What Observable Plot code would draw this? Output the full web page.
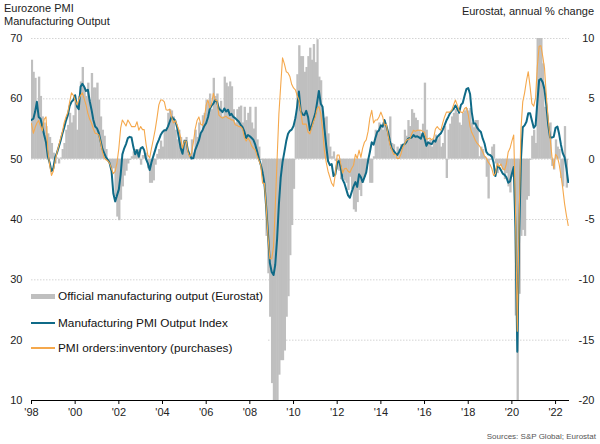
<!DOCTYPE html>
<html>
<head>
<meta charset="utf-8">
<script src="https://cdn.jsdelivr.net/npm/d3@7"></script>
<script src="https://cdn.jsdelivr.net/npm/@observablehq/plot@0.6"></script>
<style>
  html, body { margin: 0; padding: 0; background: #fff; overflow: hidden; }
  #wrap { position: relative; width: 600px; height: 444px; font-family: "Liberation Sans", Arial, sans-serif; color: #222; }
  #hdr { position: relative; height: 30px; }
  .lg-text { position: absolute; left: 30px; font-size: 11.8px; line-height: 14px; white-space: nowrap; color: #111; }
</style>
</head>
<body>
<div id="wrap">
  <div id="hdr">
    <div style="position:absolute;left:4px;top:2px;font-size:11px;line-height:13px;">Eurozone PMI<br>Manufacturing Output</div>
    <div style="position:absolute;right:6px;top:5px;font-size:11px;line-height:13px;">Eurostat, annual % change</div>
  </div>
  <div id="chart"></div>
  <div style="text-align:right;font-size:8px;color:#555;padding-right:4px;line-height:14px;">Sources: S&amp;P Global; Eurostat</div>
  <div id="legend" style="position:absolute;left:28px;top:284px;width:240px;height:74px;background:#fff;">
    <div style="position:absolute;left:3px;top:10px;width:24px;height:5px;background:#bfbfbf;"></div>
    <div class="lg-text" style="top:5px;">Official manufacturing output (Eurostat)</div>
    <div style="position:absolute;left:3px;top:37.5px;width:24px;height:2px;background:#0f6a87;"></div>
    <div class="lg-text" style="top:31.5px;">Manufacturing PMI Output Index</div>
    <div style="position:absolute;left:3px;top:63px;width:24px;height:1.5px;background:#f5a84c;"></div>
    <div class="lg-text" style="top:57px;">PMI orders:inventory (purchases)</div>
  </div>
</div>
<script>
// Monthly series, Jan 1998 onward
const seriesNames = ["Official manufacturing output (Eurostat)", "Manufacturing PMI Output Index", "PMI orders:inventory (purchases)"];

// Manufacturing PMI Output Index (left axis)
const pmiOutput = [
56.5,56.7,57.8,59.5,57.0,56.7,55.4,54.0,52.8,50.5,49.4,48.0,
48.5,50.3,51.0,52.0,53.0,54.2,55.2,56.4,57.3,58.8,59.5,59.8,
60.6,58.7,58.3,62.0,62.5,62.0,61.3,61.5,59.6,58.2,56.5,55.4,
55.1,54.3,53.0,51.7,51.0,50.3,49.9,49.3,48.0,44.3,43.0,44.0,
45.0,47.5,50.8,51.8,52.5,53.5,53.7,53.6,52.0,50.8,51.5,50.4,
51.8,52.0,51.5,50.0,49.3,48.2,49.5,50.5,51.5,52.5,53.2,54.0,
54.5,54.8,54.8,55.4,56.2,57.0,56.7,56.4,55.3,53.5,51.8,50.9,
53.0,53.0,51.5,50.7,50.1,50.2,51.5,52.3,53.1,54.3,54.8,55.5,
56.0,57.0,58.3,58.9,59.2,59.8,59.5,58.4,58.1,57.8,58.4,57.9,
58.2,57.3,57.5,57.0,56.8,56.5,56.2,55.7,55.3,54.6,53.5,54.0,
53.8,53.5,53.2,52.4,51.3,50.1,49.1,47.8,46.0,42.0,37.5,32.8,
31.3,30.8,32.5,36.8,42.5,47.0,49.5,51.2,53.0,54.2,54.7,54.9,
55.5,56.8,58.6,61.2,58.0,57.4,57.3,58.0,57.0,54.8,55.6,56.6,
57.6,59.5,61.3,59.2,58.7,55.2,52.3,49.7,49.0,49.2,47.2,47.5,
49.4,49.7,48.6,46.6,46.0,45.0,44.0,43.6,44.6,45.5,46.2,45.4,
47.5,47.0,46.2,47.0,47.8,49.8,51.2,52.8,52.4,53.5,54.5,54.8,
55.6,55.4,56.5,55.6,54.5,53.0,51.8,51.4,51.0,50.7,51.2,51.8,
52.4,52.5,52.8,53.4,53.5,53.6,54.0,53.7,53.8,53.6,53.4,54.3,
53.5,52.2,52.8,52.6,52.5,53.1,52.9,53.7,54.0,54.3,54.9,55.6,
56.4,57.0,57.6,58.0,58.3,58.9,58.4,57.7,59.0,59.3,60.5,61.6,
61.8,60.8,57.8,55.9,55.9,55.2,54.8,54.5,53.4,52.6,51.2,50.8,
50.7,50.4,49.4,47.2,48.8,48.7,48.2,47.6,47.4,47.0,46.1,46.3,
47.6,48.7,38.5,18.1,37.0,50.0,55.3,55.6,56.2,57.6,57.6,56.4,
55.2,55.6,59.3,63.1,63.3,62.7,61.5,58.8,55.6,53.6,53.6,53.7,
55.2,55.4,54.2,52.4,51.0,50.3,48.5,46.2
];

// PMI orders:inventory (purchases) (left axis)
const ordersInventory = [
55.9,54.3,55.2,56.0,56.4,55.5,54.7,56.6,57.0,51.5,49.0,47.3,
48.0,49.7,51.0,52.2,53.4,54.5,56.0,57.0,57.8,59.5,61.0,60.6,
59.8,59.0,59.8,60.6,61.0,60.0,59.0,57.6,56.6,56.0,55.0,54.3,
54.2,54.0,52.8,51.2,50.2,49.9,49.7,49.3,48.4,47.6,48.0,49.4,
51.8,55.2,56.5,56.0,55.5,56.5,56.0,55.4,55.4,55.4,56.2,54.8,
55.4,54.9,54.9,52.5,50.7,50.2,51.8,53.3,54.9,56.8,59.0,59.8,
59.8,59.5,58.2,58.1,58.3,57.0,56.0,56.4,55.7,54.8,53.5,51.8,
53.0,53.0,51.2,50.4,51.0,52.8,55.0,56.4,57.0,55.8,55.6,56.8,
59.0,59.8,58.5,59.2,60.9,59.8,59.7,57.3,57.0,56.8,57.0,57.1,
56.8,56.7,56.5,56.5,55.7,55.6,55.4,55.4,55.0,53.6,53.0,53.5,
53.0,52.2,51.8,51.5,50.5,49.8,49.0,46.0,46.0,42.0,37.0,33.5,
33.5,35.5,42.0,50.0,57.5,62.3,66.8,65.8,64.5,64.3,63.7,62.4,
61.8,61.5,60.6,59.8,58.0,55.8,55.8,55.8,54.5,54.2,55.2,56.2,
57.0,58.4,58.7,57.6,55.0,51.5,49.5,48.0,47.0,46.0,45.5,47.5,
50.7,50.7,49.2,47.7,48.4,48.5,48.0,47.8,48.5,49.0,50.8,50.1,
51.5,50.3,51.8,52.8,53.2,54.6,56.8,58.1,56.0,56.5,56.5,57.0,
57.8,57.0,55.6,55.8,54.0,52.4,51.6,50.8,50.8,50.1,50.1,50.8,
51.9,52.5,53.1,53.3,53.4,54.2,54.8,54.6,54.8,54.8,54.8,54.6,
54.5,53.3,53.4,53.5,53.2,53.5,55.0,55.4,55.0,54.8,56.0,57.0,
57.8,57.8,57.8,58.1,59.0,59.8,59.0,58.1,57.8,57.7,58.4,58.6,
57.4,55.4,54.4,53.8,53.1,52.6,52.3,51.8,51.2,50.5,50.2,49.5,
49.1,48.4,47.3,47.6,49.3,48.8,49.2,48.4,48.2,49.2,51.2,51.8,
53.0,54.0,42.0,21.5,40.0,55.0,59.5,61.0,63.0,64.5,62.0,59.2,
58.8,60.2,65.3,68.7,68.8,67.0,65.0,60.3,56.5,53.5,50.5,48.5,
50.8,50.4,49.2,47.3,45.2,42.6,40.7,39.0
];

// Official manufacturing output, annual % change (right axis)
const outputYoY = [
8.2,7.2,6.7,4.7,6.8,5.2,3.5,3.0,2.7,2.1,1.8,1.3,
0.5,-0.4,0.1,-0.4,0.1,0.8,1.3,2.4,2.8,3.8,3.0,3.6,
4.8,2.4,5.2,6.4,7.6,5.9,5.2,6.3,4.9,7.1,5.9,5.9,
6.3,4.9,3.5,2.4,1.9,0.8,0.0,-0.4,-0.9,-0.8,-3.1,-4.8,
-5.1,-3.4,-2.3,-1.4,-1.0,-0.4,-0.1,0.2,0.6,0.8,0.5,0.8,
-0.5,0.3,0.3,0.5,-0.8,-2.0,-2.0,-1.8,-0.5,0.4,0.8,1.5,
1.0,2.4,2.4,3.8,4.1,4.0,3.5,2.4,1.6,2.4,1.8,1.0,
1.6,1.8,0.5,0.2,1.6,0.5,2.4,1.8,3.0,2.1,3.6,3.8,
4.9,4.6,5.4,4.1,6.7,5.2,5.4,4.3,4.8,3.5,6.8,6.3,
6.0,6.4,6.0,4.1,3.0,4.1,4.3,4.4,3.0,4.3,3.2,3.8,
4.3,3.0,2.5,4.3,1.6,1.0,-0.1,-1.2,-2.3,-6.4,-9.5,-13.1,
-18.6,-21.0,-22.0,-21.0,-17.9,-16.7,-16.7,-15.9,-13.1,-11.4,-8.0,-5.5,
-2.5,3.5,7.0,9.4,8.5,8.5,7.2,7.6,8.5,9.2,8.2,9.5,
8.0,9.9,6.8,6.5,3.9,3.4,3.5,2.1,1.0,0.2,0.6,-0.2,
-0.9,-1.0,-1.7,-1.5,-1.8,-2.0,-2.6,-1.5,-2.5,-4.2,-4.4,-3.6,
-2.6,-3.1,-2.0,-1.5,-0.9,-0.4,-2.0,-2.0,0.2,2.4,2.1,3.0,
2.8,2.4,3.2,2.6,2.1,3.5,1.3,1.2,0.2,1.0,0.8,1.2,
1.0,2.4,1.9,3.2,2.7,4.1,3.8,3.4,3.2,2.4,2.1,2.9,
6.3,2.4,1.3,1.6,1.0,1.6,2.0,1.6,1.9,1.0,1.3,2.7,
-1.6,2.4,2.9,3.5,3.8,4.1,3.8,3.0,2.8,3.8,4.0,4.2,
4.0,4.2,3.0,2.6,3.2,3.2,0.2,1.0,0.8,0.2,-1.5,-3.3,
-0.1,1.0,1.2,-0.4,-1.2,-0.4,-0.6,-0.9,-1.7,-1.2,-2.3,-2.8,
-1.5,-0.9,-13.0,-28.0,-11.2,-6.4,-5.9,-6.4,-3.4,-3.1,-0.1,1.9,
2.4,1.3,12.0,23.0,12.5,7.9,4.3,4.1,2.4,3.0,-0.6,-0.9,
1.6,1.0,0.8,-1.6,-2.3,2.7,-2.4
];

// Axis ticks
const leftTicks = [10, 20, 30, 40, 50, 60, 70];
const gridTicks = [20, 30, 40, 50, 60, 70];
const xTickYears = [1998, 2000, 2002, 2004, 2006, 2008, 2010, 2012, 2014, 2016, 2018, 2020, 2022];

const TEAL = "#0f6a87";
const ORANGE = "#f5a84c";
const GREY = "#bfbfbf";

const monthDate = i => new Date(1998, i, 1);
const pmiRows = pmiOutput.map((v, i) => ({date: monthDate(i), v}));
const oiRows = ordersInventory.map((v, i) => ({date: monthDate(i), v}));
// right axis maps onto left axis: left = 50 + 2 * right
const barRows = outputYoY.map((r, i) => ({x1: monthDate(i), x2: monthDate(i + 1), y2: 50 + 2 * r}));

const chart = Plot.plot({
  width: 600,
  height: 400,
  marginTop: 8,
  marginBottom: 30,
  marginLeft: 31,
  marginRight: 31,
  style: {fontFamily: "'Liberation Sans', Arial, sans-serif", fontSize: "11px", color: "#222", background: "#fff", overflow: "visible"},
  x: {type: "time", domain: [new Date(1998, 0, 1), new Date(2022, 7, 22)]},
  y: {domain: [10, 70]},
  marks: [
    Plot.ruleY(gridTicks, {stroke: "#d4d4d4", strokeDasharray: "1.5,1.5"}),
    Plot.rect(barRows, {x1: "x1", x2: "x2", y1: 50, y2: "y2", fill: GREY, insetLeft: -0.25, insetRight: -0.25, clip: true}),
    Plot.line(pmiRows, {x: "date", y: "v", stroke: TEAL, strokeWidth: 2, clip: true}),
    Plot.line(oiRows, {x: "date", y: "v", stroke: ORANGE, strokeWidth: 1.1, clip: true}),
    Plot.ruleY([10], {stroke: "#000", strokeWidth: 1}),
    Plot.axisX({
      ticks: xTickYears.map(y => new Date(y, 0, 1)),
      tickFormat: d => "'" + String(d.getFullYear() % 100).padStart(2, "0"),
      tickSize: 4, tickPadding: 4, label: null, stroke: "#000"
    }),
    Plot.axisY({anchor: "left", ticks: leftTicks, tickSize: 0, tickPadding: 9, label: null,
      tickFormat: d => String(d)}),
    Plot.axisY({anchor: "right", ticks: leftTicks, tickSize: 0, tickPadding: 25, textAnchor: "end", label: null,
      tickFormat: d => String((d - 50) / 2)})
  ]
});
document.getElementById("chart").appendChild(chart);
</script>
</body>
</html>
